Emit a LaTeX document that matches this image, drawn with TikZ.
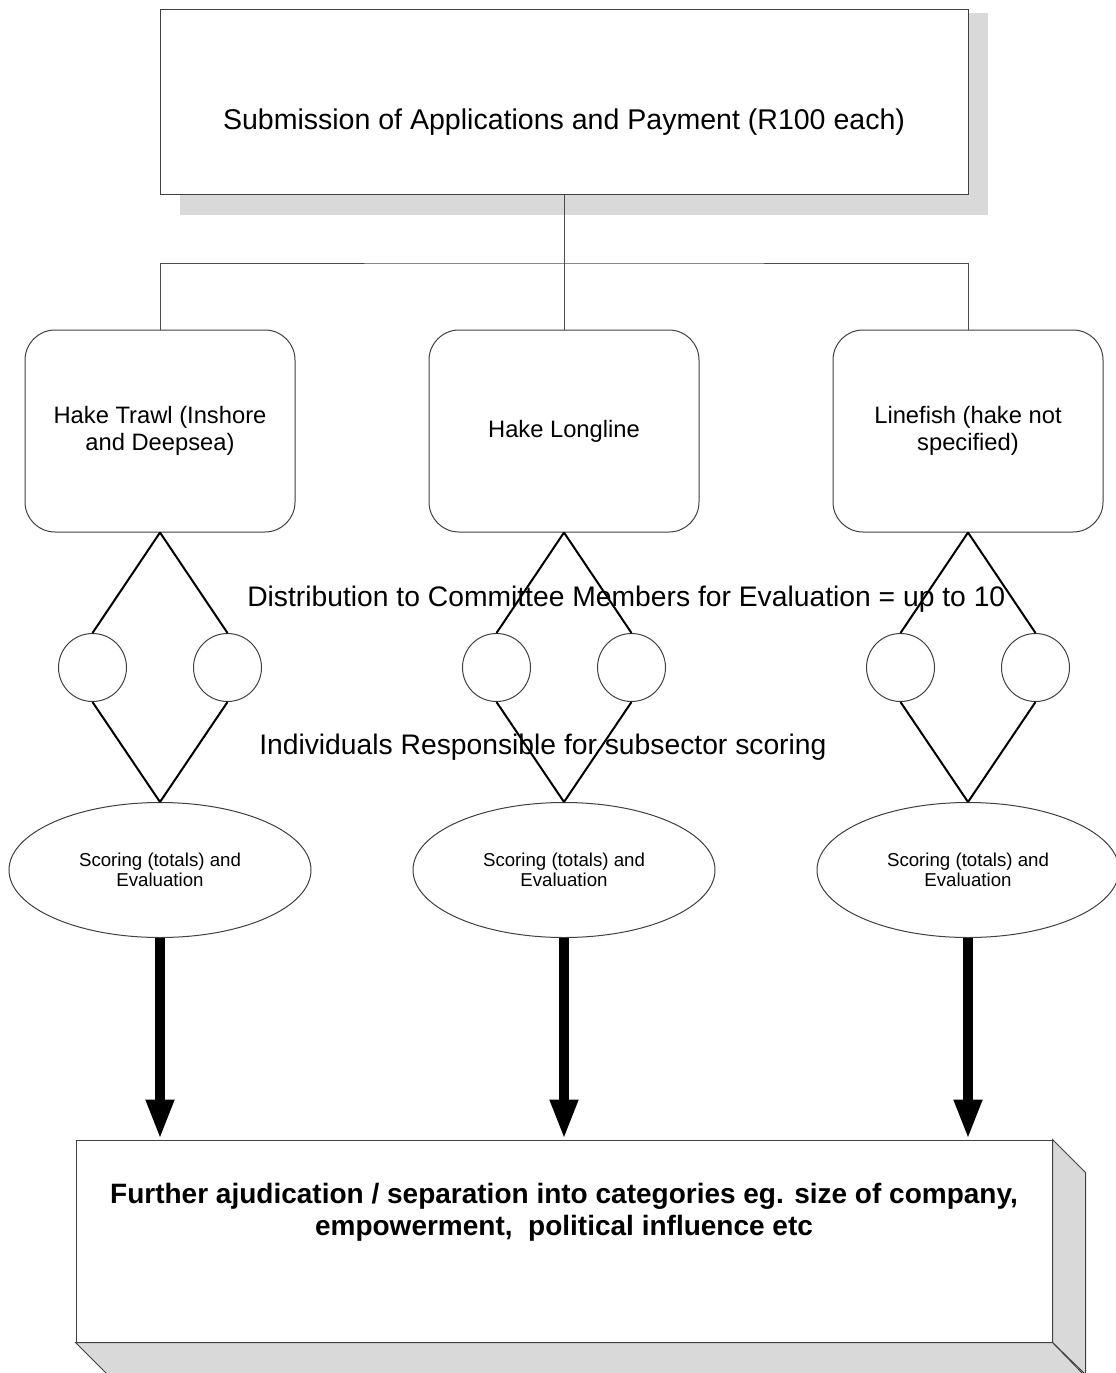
\documentclass[tikz,border=0pt]{standalone}
\usepackage{fontspec}
\setmainfont{Liberation Sans}
\usetikzlibrary{arrows.meta,shapes.geometric}
\newdimen\pxu \pxu=0.75pt
\begin{document}
\begin{tikzpicture}[x=0.75pt,y=-0.75pt,
  thinline/.style={draw=black!75, line width=1\pxu},
  shadowfill/.style={fill=black!15},
  topbox/.style={thinline, fill=white, rectangle, minimum width=808\pxu, minimum height=185\pxu, inner sep=0},
  catbox/.style={thinline, fill=white, rectangle, rounded corners=30\pxu, minimum width=270\pxu, minimum height=202\pxu, inner sep=0, align=center, font=\fontsize{17.8}{20.3}\selectfont},
  scorebox/.style={thinline, fill=white, ellipse, minimum width=302\pxu, minimum height=135\pxu, inner sep=0, align=center, font=\fontsize{14}{15}\selectfont},
  member/.style={circle, thinline, fill=white, minimum size=68\pxu, inner sep=0},
  diamondline/.style={draw=black, line width=2\pxu},
  busline/.style={draw=black!70, line width=1\pxu},
  bigarrow/.style={draw=black, line width=7.5pt, -{Triangle[length=30pt, width=19.5pt]}},
  frontbox/.style={thinline, fill=white, rectangle, minimum width=976\pxu, minimum height=202\pxu, inner sep=0},
  bigtext/.style={font=\fontsize{21.4}{24}\selectfont},
  boldtext/.style={font=\bfseries\fontsize{21}{24}\selectfont, align=center},
  midtext/.style={font=\fontsize{21.2}{24}\selectfont}
]
\useasboundingbox (0,0) rectangle (1115,1373);

% top box with shadow
\fill[shadowfill] (180,13) rectangle (988,215);
\node[topbox] (top) at (564,102.5) {};
\node[bigtext, anchor=base] (toptext) at (564,130) {Submission of Applications and Payment (R100 each)};

% category boxes
\node[catbox] (cat1) at (160,431) {Hake Trawl (Inshore\\and Deepsea)};
\node[catbox] (cat2) at (564,431) {Hake Longline};
\node[catbox] (cat3) at (968,431) {Linefish (hake not\\specified)};

% bus
\coordinate (bus) at (564,263);
\draw[busline] (top.south) -- (bus);
\draw[busline] (cat1.north) |- (bus) -| (cat3.north);
\draw[busline] (bus) -- (cat2.north);

% ellipses
\node[scorebox] (e1) at (160,870) {Scoring (totals) and\\Evaluation};
\node[scorebox] (e2) at (564,870) {Scoring (totals) and\\Evaluation};
\node[scorebox] (e3) at (968,870) {Scoring (totals) and\\Evaluation};

% member circles
\node[member] (m1a) at (92.5,667.5) {};
\node[member] (m1b) at (227.5,667.5) {};
\node[member] (m2a) at (496.5,667.5) {};
\node[member] (m2b) at (631.5,667.5) {};
\node[member] (m3a) at (900.5,667.5) {};
\node[member] (m3b) at (1035.5,667.5) {};

% texts
\node[midtext, anchor=base west, inner sep=0] (dist) at (247,606) {Distribution to Committee Members for Evaluation = up to 10};
\node[midtext, anchor=base west, inner sep=0] (indiv) at (259,754) {Individuals Responsible for subsector scoring};

% diamonds
\foreach \i in {1,2,3}{
  \draw[diamondline] (cat\i.south) -- (m\i a.north);
  \draw[diamondline] (cat\i.south) -- (m\i b.north);
  \draw[diamondline] (m\i a.south) -- (e\i.north);
  \draw[diamondline] (m\i b.south) -- (e\i.north);
}

% bottom 3D box
\node[frontbox] (front) at (564,1241) {};
\filldraw[thinline, shadowfill] (front.north east) -- ++(33,33) -- ++(0,202) -- (front.south east) -- cycle;
\filldraw[thinline, shadowfill] (front.south west) -- ++(33,33) -- ++(976,0) -- (front.south east) -- cycle;
\node[boldtext] (fronttext) at (564,1212) {Further ajudication / separation into categories eg. size of company,\\empowerment,\ \ political influence etc};

% arrows
\foreach \i in {1,2,3}{
  \draw[bigarrow] (e\i.south) -- (e\i.south |- front.north);
}
\end{tikzpicture}
\end{document}
